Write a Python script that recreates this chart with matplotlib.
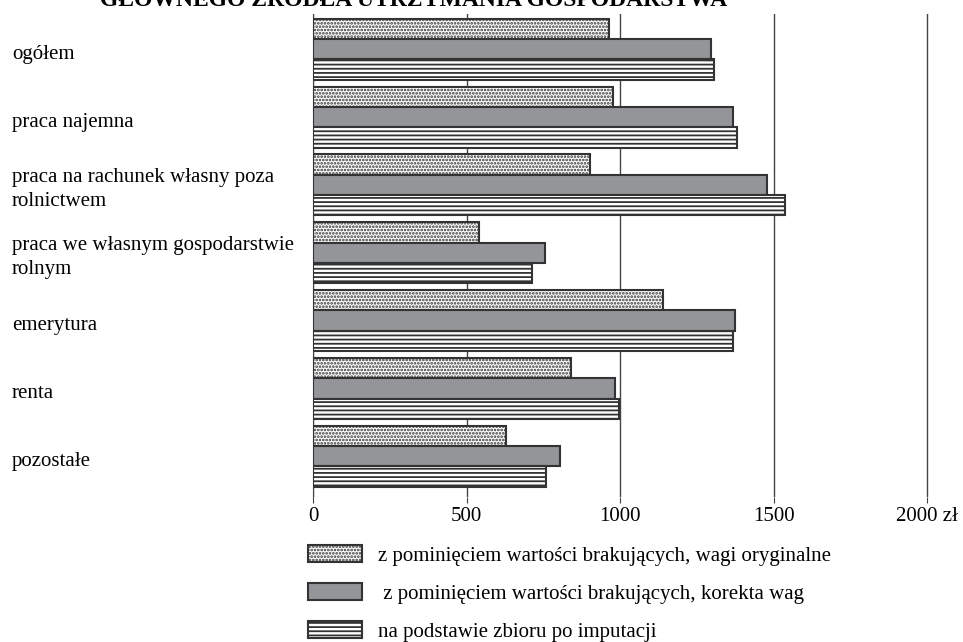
#!/usr/bin/env python3
"""Income by main source of household maintenance - horizontal grouped bars."""

import matplotlib

matplotlib.use("Agg")
import matplotlib.pyplot as plt
import matplotlib.transforms as mtransforms
import numpy as np
from matplotlib.patches import Patch

categories = [
    "ogółem",
    "praca najemna",
    "praca na rachunek własny poza\nrolnictwem",
    "praca we własnym gospodarstwie\nrolnym",
    "emerytura",
    "renta",
    "pozostałe",
]
orig_weights = [965, 977, 902, 541, 1140, 840, 629]
corrected_weights = [1296, 1368, 1479, 756, 1375, 984, 805]
imputed = [1306, 1381, 1537, 713, 1368, 997, 759]

series_labels = [
    "z pominięciem wartości brakujących, wagi oryginalne",
    " z pominięciem wartości brakujących, korekta wag",
    "na podstawie zbioru po imputacji",
]
xticks = [0, 500, 1000, 1500, 2000]
xtick_labels = ["0", "500", "1000", "1500", "2000 zł"]

plt.rcParams["font.family"] = ["Liberation Serif", "DejaVu Serif"]
plt.rcParams["hatch.linewidth"] = 1.3

EDGE = "#333333"
GRAY = "#939598"

fig = plt.figure(figsize=(9.63, 6.42), dpi=100)
ax = fig.add_axes([313 / 963, 1 - 497 / 642, (958 - 313) / 963, (497 - 14) / 642])

y = np.arange(len(categories))
h = 0.3
styles = [
    dict(facecolor="white", hatch=".....", edgecolor=EDGE),
    dict(facecolor=GRAY, hatch=None, edgecolor=EDGE),
    dict(facecolor="white", hatch="----", edgecolor=EDGE),
]
for i, (vals, st) in enumerate(zip([orig_weights, corrected_weights, imputed], styles)):
    ax.barh(y + (i - 1) * h, vals, height=h, linewidth=1.5, zorder=3, **st)

ax.set_xlim(0, 2100)
ax.set_ylim(6.6, -0.52)
ax.set_xticks(xticks)
ax.set_xticklabels(xtick_labels, fontsize=15)
ax.set_yticks([])
ax.grid(axis="x", color="#444444", linewidth=1.0, zorder=0)
ax.tick_params(axis="x", length=4, color="#444444", pad=3)
for side in ["top", "right", "bottom"]:
    ax.spines[side].set_visible(False)
ax.spines["left"].set_color("#444444")

label_trans = mtransforms.blended_transform_factory(fig.transFigure, ax.transData)
label_trans = label_trans + mtransforms.ScaledTranslation(0, -5 / 100, fig.dpi_scale_trans)
for yi, cat in zip(y, categories):
    ax.text(12 / 963, yi, cat, transform=label_trans, fontsize=15,
            ha="left", va="center", linespacing=1.35)

fig.text(100 / 963, 1 - 6 / 642, "GŁÓWNEGO ŹRÓDŁA UTRZYMANIA GOSPODARSTWA",
         fontsize=17, fontweight="bold", ha="left", va="baseline")

handles = [Patch(linewidth=1.5, **st) for st in styles]
fig.legend(handles, series_labels, loc="upper left",
           bbox_to_anchor=(308 / 963, 1 - 545 / 642), frameon=False,
           fontsize=15, handlelength=2.6, handleheight=0.9,
           handletextpad=0.75, labelspacing=0.82, borderpad=0,
           borderaxespad=0)

fig.savefig("out.png", dpi=100)
